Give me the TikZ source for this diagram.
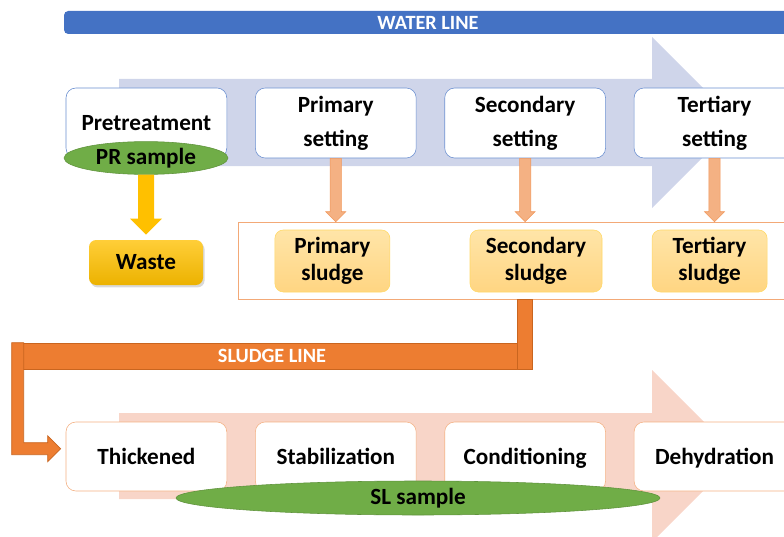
\documentclass[tikz,border=0pt]{standalone}
\usepackage{fontspec}
\setmainfont{Carlito}
\usepackage{tikz}
\usetikzlibrary{arrows.meta, positioning, shapes.geometric, calc, shadows}

\definecolor{wblue}{HTML}{4472C4}
\definecolor{wpale}{HTML}{CFD5EA}
\definecolor{sorange}{HTML}{ED7D31}
\definecolor{sdark}{HTML}{C9651F}
\definecolor{salmon}{HTML}{F4B183}
\definecolor{spale}{HTML}{F8D5C8}
\definecolor{sgreen}{HTML}{70AD47}
\definecolor{wyellow}{HTML}{FFC000}

% block arrow pointing down: style, from, to, half shaft, half head (= head length)
\newcommand{\downblock}[5]{%
  \path[#1] let \p1=(#2), \p2=(#3) in
    (\x1-#4,\y1) -- (\x1+#4,\y1) -- (\x1+#4,\y2+#5) -- (\x1+#5,\y2+#5) -- (\x1,\y2)
    -- (\x1-#5,\y2+#5) -- (\x1-#4,\y2+#5) -- cycle;}

\begin{document}
\begin{tikzpicture}[
    bar/.style={rounded corners=3pt, text=white, font=\bfseries\fontsize{14.4}{16}\selectfont, inner sep=0pt},
    wbox/.style={draw=wblue!80, fill=white, rounded corners=7pt, minimum width=4.02cm, minimum height=1.75cm, align=center, font=\bfseries\fontsize{16.5}{24.2}\selectfont},
    sbox/.style={wbox, draw=salmon, minimum height=1.725cm, text height=1.1em, text depth=0pt},
    sludge/.style={draw=wyellow!60, rounded corners=6pt, top color={rgb,255:red,255;green,229;blue,168}, bottom color={rgb,255:red,255;green,213;blue,130}, minimum height=1.55cm, align=center, font=\bfseries\fontsize{16.5}{19.4}\selectfont},
    sample/.style={ellipse, draw=sgreen!85!black, fill=sgreen, inner sep=0pt, font=\bfseries\fontsize{16.5}{19}\selectfont},
    sarr/.style={draw=sorange!80, fill=salmon},
    sline/.style={draw=sdark, line width=0.5pt, fill=sorange}]
  \clip[use as bounding box] (0,0) rectangle (19.6,-13.425);
  % water line
  \node[bar, fill=wblue, minimum width=18.2cm, minimum height=0.575cm] (wbar) at (10.7,-0.5625) {WATER LINE};
  \fill[wpale] (2.975,-1.975) -- (16.3,-1.975) -- (16.3,-0.925) -- (18.44,-3.0625)
    -- (16.3,-5.2) -- (16.3,-4.15) -- (2.975,-4.15) -- cycle;
  \node[wbox] (pre) at (3.66,-3.075) {Pretreatment};
  \node[wbox, right=0.7cm of pre] (prim) {Primary\\setting};
  \node[wbox, right=0.7cm of prim] (sec) {Secondary\\setting};
  \node[wbox, right=0.7cm of sec] (ter) {Tertiary\\setting};
  % sludge out of each setting
  \node[draw=salmon!85!sorange, fill=white, minimum width=13.85cm, minimum height=1.925cm, inner sep=0pt] (frame) at (12.875,-6.5125) {};
  \downblock{sarr}{prim.south}{prim.south |- frame.north}{0.14cm}{0.25cm}
  \downblock{sarr}{sec.south}{sec.south |- frame.north}{0.14cm}{0.25cm}
  \downblock{sarr}{ter.south}{ter.south |- frame.north}{0.14cm}{0.25cm}
  \node[sludge, minimum width=2.875cm] (psl) at (8.31,-6.525) {Primary\\sludge};
  \node[sludge, minimum width=3.3cm] (ssl) at (13.4,-6.525) {Secondary\\sludge};
  \node[sludge, minimum width=2.875cm] (tsl) at (17.74,-6.525) {Tertiary\\sludge};
  % pretreatment sample and waste
  \node[sample, minimum width=4.1cm, minimum height=0.82cm] (prs) at (3.65,-3.95) {PR sample};
  \node[rounded corners=5pt, top color={rgb,255:red,255;green,206;blue,56}, bottom color={rgb,255:red,236;green,178;blue,0},
    drop shadow={opacity=0.3, shadow xshift=0.04cm, shadow yshift=-0.06cm},
    minimum width=2.85cm, minimum height=1.125cm, font=\bfseries\fontsize{16.5}{19}\selectfont] (waste) at (3.65,-6.5625) {Waste};
  \downblock{fill=wyellow}{prs.south}{$(waste.north)+(0,0.125)$}{0.2cm}{0.4cm}
  % sludge line
  \node[bar, sline, rounded corners=0pt, minimum width=13cm, minimum height=0.65cm] (sbar) at (6.8,-8.9) {SLUDGE LINE};
  \draw[sline] (sbar.south east) rectangle ($(sbar.east |- frame.south)+(-0.375,0)$);
  \draw[sline] (sbar.north west) -- ++(0.3,0) -- ++(0,-2.5) -- ++(0.6,0) -- ++(0,0.175) -- ++(0.325,-0.325)
    -- ++(-0.325,-0.325) -- ++(0,0.175) -- ++(-0.9,0) -- cycle;
  \fill[spale] (2.975,-10.325) -- (16.3,-10.325) -- (16.3,-9.25) -- (18.45,-11.4)
    -- (16.3,-13.55) -- (16.3,-12.475) -- (2.975,-12.475) -- cycle;
  \node[sbox] (thick) at (3.66,-11.4125) {Thickened};
  \node[sbox, right=0.7cm of thick] (stab) {Stabilization};
  \node[sbox, right=0.7cm of stab] (cond) {Conditioning};
  \node[sbox, right=0.7cm of cond] (dehyd) {Dehydration};
  \node[sample, minimum width=12.1cm, minimum height=0.85cm] (sls) at (10.45,-12.45) {SL sample};
\end{tikzpicture}
\end{document}
